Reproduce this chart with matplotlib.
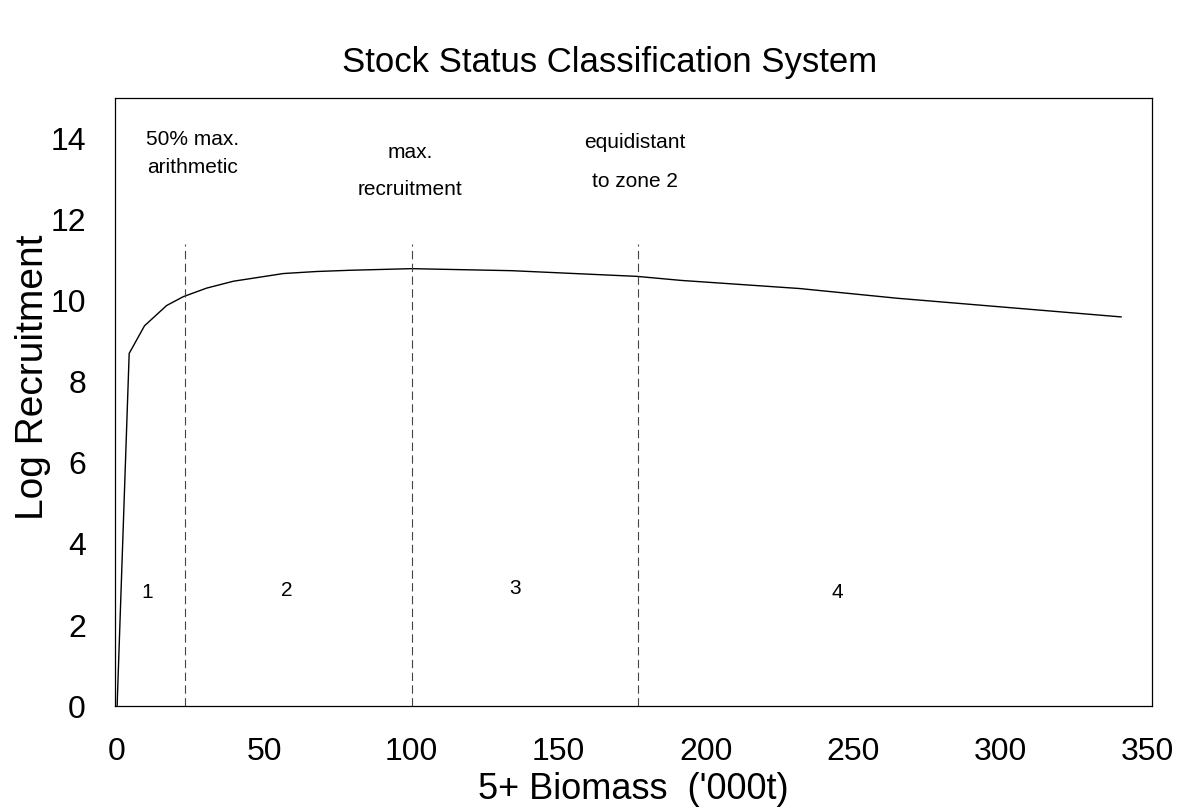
import matplotlib
matplotlib.use("Agg")
import matplotlib.pyplot as plt

plt.rcParams["font.family"] = ["Liberation Sans", "DejaVu Sans"]

# Stock-recruitment curve
biomass = [0, 4.1, 9.3, 16.8, 22.5, 30.4, 39.5, 56.5, 67.8, 79, 100,
           134, 176.5, 191.6, 231.8, 265, 341]
log_recruit = [0, 8.7, 9.38, 9.88, 10.1, 10.31, 10.48, 10.67, 10.72, 10.75, 10.79,
               10.74, 10.6, 10.5, 10.3, 10.06, 9.6]

# zone boundaries and labels
boundaries = [23, 100, 177]
boundary_top = 11.4
zone_names = ["1", "2", "3", "4"]
zone_x = [10.2, 57.7, 135, 244.5]
zone_y = [2.8, 2.85, 2.9, 2.8]

notes = ["50% max.", "arithmetic", "max.", "recruitment", "equidistant", "to zone 2"]
note_x = [25.6, 25.6, 99.5, 99.5, 175.8, 175.8]
note_y = [13.98, 13.28, 13.65, 12.74, 13.9, 12.94]

x_ticks = [0, 50, 100, 150, 200, 250, 300, 350]
y_ticks = [0, 2, 4, 6, 8, 10, 12, 14]

fig = plt.figure(figsize=(11.8, 8.07), dpi=100)
ax = fig.add_axes([0.0975, 0.125, 0.8785, 0.7536])

ax.plot(biomass, log_recruit, color="black", linewidth=1.0)
for b in boundaries:
    ax.plot([b, b], [0, boundary_top], color="#444444", linewidth=0.8,
            linestyle=(0, (7.5, 4)))

for name, x, y in zip(zone_names, zone_x, zone_y):
    ax.text(x, y, name, ha="center", va="center", fontsize=15)
for t, x, y in zip(notes, note_x, note_y):
    ax.text(x, y, t, ha="center", va="center", fontsize=15)

ax.set_xlim(-0.7, 351.4)
ax.set_ylim(0, 15)
ax.set_xticks(x_ticks)
ax.set_yticks(y_ticks)
ax.tick_params(axis="both", length=0, labelsize=23)
ax.tick_params(axis="x", pad=22)
ax.tick_params(axis="y", pad=21)
for s in ax.spines.values():
    s.set_linewidth(0.9)

ax.set_xlabel("5+ Biomass  ('000t)", fontsize=26)
ax.xaxis.set_label_coords(0.5, -0.108)
ax.set_ylabel("Log Recruitment", fontsize=28)
ax.yaxis.set_label_coords(-0.062, 0.54)

fig.text(0.517, 0.922, "Stock Status Classification System", ha="center",
         va="center", fontsize=25)

fig.savefig("out.png", dpi=100)
